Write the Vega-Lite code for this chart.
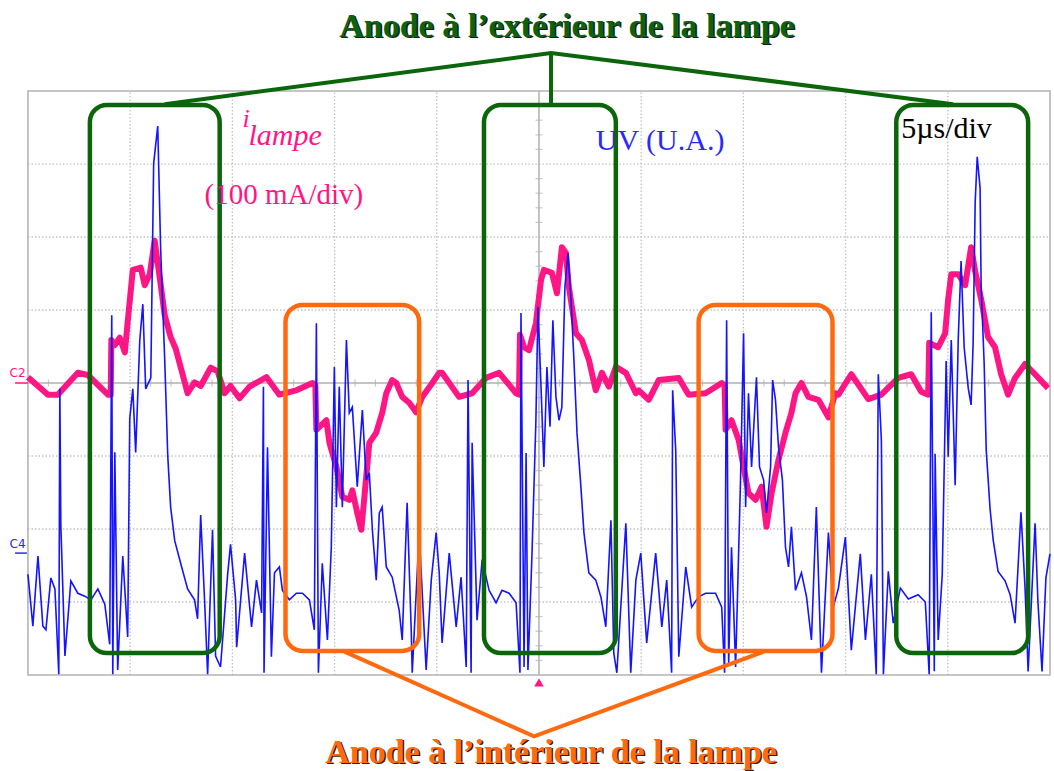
{
  "$schema": "https://vega.github.io/schema/vega-lite/v6.json",
  "width": 1054,
  "height": 771,
  "autosize": {"type": "fit", "contains": "padding"},
  "padding": 0,
  "background": "white",
  "config": {"view": {"stroke": null}, "axis": {"disable": true}},
  "datasets": {
    "pink": [
      {"t":0.00,"v":0.08},{"t":0.98,"v":-0.16},{"t":1.46,"v":-0.16},{"t":2.44,"v":0.14},{"t":2.93,"v":0.11},{"t":3.91,"v":-0.16},{"t":4.05,"v":-0.16},{"t":4.08,"v":0.59},{"t":4.25,"v":0.52},{"t":4.49,"v":0.62},{"t":4.74,"v":0.42},{"t":4.88,"v":0.84},{"t":5.13,"v":1.55},{"t":5.52,"v":1.58},{"t":5.71,"v":1.34},{"t":5.96,"v":1.49},{"t":6.20,"v":1.95},{"t":6.45,"v":1.44},{"t":6.69,"v":0.93},{"t":6.98,"v":0.63},{"t":7.23,"v":0.47},{"t":7.67,"v":0.01},{"t":7.81,"v":-0.14},{"t":8.15,"v":0.01},{"t":8.45,"v":-0.04},{"t":8.94,"v":0.21},{"t":9.28,"v":0.16},{"t":9.62,"v":-0.14},{"t":9.91,"v":-0.04},{"t":10.35,"v":-0.21},{"t":10.84,"v":-0.05},{"t":11.67,"v":0.08},{"t":12.30,"v":-0.16},{"t":13.13,"v":-0.10},{"t":13.92,"v":0.00},{"t":14.06,"v":-0.03},{"t":14.11,"v":-0.64},{"t":14.26,"v":-0.60},{"t":14.60,"v":-0.51},{"t":14.75,"v":-0.82},{"t":15.09,"v":-1.15},{"t":15.38,"v":-1.56},{"t":15.72,"v":-1.60},{"t":15.87,"v":-1.47},{"t":16.11,"v":-1.78},{"t":16.31,"v":-2.01},{"t":16.46,"v":-1.56},{"t":16.70,"v":-0.82},{"t":17.04,"v":-0.68},{"t":17.33,"v":-0.41},{"t":17.53,"v":-0.14},{"t":17.82,"v":0.04},{"t":18.02,"v":0.00},{"t":18.31,"v":-0.19},{"t":18.65,"v":-0.27},{"t":18.99,"v":-0.40},{"t":19.29,"v":-0.19},{"t":19.78,"v":0.00},{"t":20.12,"v":0.14},{"t":20.26,"v":0.14},{"t":21.09,"v":-0.19},{"t":21.73,"v":-0.14},{"t":22.41,"v":0.07},{"t":23.05,"v":0.14},{"t":23.88,"v":-0.14},{"t":24.02,"v":-0.16},{"t":24.07,"v":0.66},{"t":24.27,"v":0.49},{"t":24.51,"v":0.45},{"t":24.85,"v":0.82},{"t":25.10,"v":1.41},{"t":25.24,"v":1.55},{"t":25.63,"v":1.51},{"t":25.88,"v":1.23},{"t":26.12,"v":1.86},{"t":26.32,"v":1.78},{"t":26.46,"v":1.32},{"t":26.81,"v":0.68},{"t":27.10,"v":0.59},{"t":27.44,"v":0.32},{"t":27.78,"v":-0.10},{"t":28.08,"v":0.14},{"t":28.42,"v":-0.05},{"t":28.76,"v":0.22},{"t":29.25,"v":0.14},{"t":29.74,"v":-0.14},{"t":29.88,"v":-0.10},{"t":30.37,"v":-0.23},{"t":30.86,"v":0.04},{"t":31.84,"v":0.07},{"t":32.32,"v":-0.16},{"t":33.15,"v":-0.14},{"t":33.94,"v":0.00},{"t":34.08,"v":-0.03},{"t":34.13,"v":-0.64},{"t":34.42,"v":-0.51},{"t":34.77,"v":-0.78},{"t":35.01,"v":-1.15},{"t":35.25,"v":-1.51},{"t":35.60,"v":-1.60},{"t":35.89,"v":-1.42},{"t":36.13,"v":-1.97},{"t":36.38,"v":-1.51},{"t":36.72,"v":-1.05},{"t":37.06,"v":-0.68},{"t":37.35,"v":-0.41},{"t":37.55,"v":-0.14},{"t":37.84,"v":0.00},{"t":38.18,"v":-0.19},{"t":38.67,"v":-0.23},{"t":39.16,"v":-0.47},{"t":39.50,"v":-0.14},{"t":39.65,"v":-0.16},{"t":40.28,"v":0.12},{"t":41.11,"v":-0.22},{"t":41.75,"v":-0.16},{"t":42.58,"v":0.07},{"t":43.21,"v":0.12},{"t":43.70,"v":-0.12},{"t":44.04,"v":-0.16},{"t":44.09,"v":0.55},{"t":44.53,"v":0.49},{"t":44.87,"v":0.68},{"t":45.02,"v":1.15},{"t":45.17,"v":1.49},{"t":45.51,"v":1.49},{"t":45.85,"v":1.34},{"t":46.14,"v":1.86},{"t":46.34,"v":1.53},{"t":46.63,"v":1.15},{"t":46.97,"v":0.63},{"t":47.31,"v":0.49},{"t":47.61,"v":0.12},{"t":47.95,"v":-0.16},{"t":48.29,"v":0.07},{"t":48.78,"v":0.26},{"t":49.27,"v":0.12},{"t":49.90,"v":-0.07}
    ],
    "blue": [
      {"t":0.00,"v":-2.62},{"t":0.24,"v":-3.33},{"t":0.49,"v":-2.37},{"t":0.73,"v":-3.33},{"t":0.88,"v":-3.38},{"t":1.12,"v":-2.67},{"t":1.32,"v":-2.82},{"t":1.51,"v":-3.99},{"t":1.56,"v":-0.08},{"t":1.61,"v":-1.96},{"t":1.81,"v":-3.74},{"t":2.10,"v":-2.71},{"t":2.44,"v":-2.88},{"t":2.78,"v":-2.92},{"t":3.08,"v":-2.97},{"t":3.42,"v":-2.82},{"t":3.76,"v":-3.03},{"t":4.00,"v":-3.58},{"t":4.10,"v":0.93},{"t":4.15,"v":-3.99},{"t":4.25,"v":-0.95},{"t":4.39,"v":-3.93},{"t":4.64,"v":-2.37},{"t":4.88,"v":-3.48},{"t":4.98,"v":-0.49},{"t":5.13,"v":-0.08},{"t":5.27,"v":-0.95},{"t":5.47,"v":0.58},{"t":5.62,"v":1.08},{"t":5.76,"v":-0.08},{"t":6.01,"v":0.07},{"t":6.15,"v":3.01},{"t":6.35,"v":3.52},{"t":6.49,"v":1.85},{"t":6.69,"v":0.33},{"t":6.84,"v":-1.00},{"t":6.98,"v":-1.70},{"t":7.18,"v":-2.16},{"t":7.47,"v":-2.47},{"t":7.81,"v":-2.82},{"t":8.15,"v":-2.97},{"t":8.30,"v":-3.23},{"t":8.45,"v":-1.81},{"t":8.64,"v":-2.97},{"t":8.79,"v":-3.99},{"t":9.03,"v":-2.01},{"t":9.18,"v":-3.74},{"t":9.42,"v":-3.89},{"t":9.77,"v":-2.62},{"t":9.91,"v":-2.21},{"t":10.16,"v":-2.97},{"t":10.21,"v":-3.62},{"t":10.60,"v":-2.33},{"t":10.94,"v":-3.34},{"t":11.18,"v":-2.70},{"t":11.43,"v":-3.15},{"t":11.52,"v":-0.05},{"t":11.55,"v":-3.97},{"t":11.72,"v":-0.88},{"t":11.91,"v":-3.75},{"t":12.06,"v":-2.60},{"t":12.30,"v":-2.52},{"t":12.45,"v":-2.84},{"t":12.79,"v":-2.97},{"t":13.13,"v":-2.88},{"t":13.43,"v":-2.88},{"t":13.77,"v":-2.97},{"t":14.01,"v":-3.38},{"t":14.11,"v":0.82},{"t":14.21,"v":-3.97},{"t":14.40,"v":-2.47},{"t":14.65,"v":-3.52},{"t":14.84,"v":-2.25},{"t":14.99,"v":0.22},{"t":15.09,"v":-1.70},{"t":15.23,"v":-0.05},{"t":15.38,"v":-1.70},{"t":15.58,"v":0.59},{"t":15.72,"v":-0.41},{"t":15.87,"v":-0.33},{"t":16.11,"v":-1.42},{"t":16.36,"v":-0.37},{"t":16.55,"v":-1.33},{"t":16.70,"v":-1.23},{"t":16.85,"v":-2.01},{"t":17.04,"v":-2.70},{"t":17.19,"v":-1.78},{"t":17.33,"v":-1.70},{"t":17.53,"v":-2.52},{"t":17.82,"v":-2.66},{"t":18.16,"v":-3.11},{"t":18.31,"v":-3.52},{"t":18.55,"v":-1.64},{"t":18.75,"v":-3.38},{"t":18.80,"v":-3.97},{"t":19.14,"v":-2.05},{"t":19.48,"v":-3.93},{"t":19.73,"v":-2.70},{"t":19.97,"v":-2.05},{"t":20.12,"v":-2.60},{"t":20.26,"v":-3.56},{"t":20.61,"v":-2.33},{"t":20.95,"v":-3.34},{"t":21.19,"v":-2.66},{"t":21.44,"v":-3.89},{"t":21.53,"v":0.04},{"t":21.68,"v":-3.97},{"t":21.73,"v":-0.82},{"t":21.97,"v":-3.25},{"t":22.22,"v":-2.42},{"t":22.56,"v":-2.84},{"t":22.90,"v":-3.01},{"t":23.19,"v":-2.84},{"t":23.54,"v":-2.88},{"t":23.88,"v":-3.01},{"t":24.07,"v":-3.97},{"t":24.12,"v":0.96},{"t":24.27,"v":-3.89},{"t":24.37,"v":-0.96},{"t":24.46,"v":-3.93},{"t":24.66,"v":-2.33},{"t":24.85,"v":-0.51},{"t":24.95,"v":1.04},{"t":25.10,"v":-0.05},{"t":25.24,"v":-1.15},{"t":25.39,"v":0.22},{"t":25.54,"v":-0.60},{"t":25.68,"v":0.86},{"t":25.83,"v":-0.19},{"t":25.98,"v":-0.51},{"t":26.12,"v":-0.33},{"t":26.27,"v":1.32},{"t":26.42,"v":1.78},{"t":26.56,"v":1.18},{"t":26.71,"v":0.32},{"t":26.86,"v":-0.68},{"t":27.05,"v":-1.42},{"t":27.20,"v":-2.05},{"t":27.44,"v":-2.60},{"t":27.78,"v":-2.70},{"t":28.03,"v":-2.93},{"t":28.27,"v":-3.34},{"t":28.52,"v":-1.88},{"t":28.66,"v":-3.70},{"t":28.81,"v":-3.97},{"t":29.25,"v":-1.92},{"t":29.49,"v":-3.97},{"t":29.74,"v":-2.70},{"t":29.98,"v":-2.33},{"t":30.27,"v":-3.56},{"t":30.71,"v":-2.33},{"t":31.01,"v":-3.34},{"t":31.25,"v":-2.70},{"t":31.49,"v":-3.97},{"t":31.54,"v":-0.10},{"t":31.69,"v":-0.92},{"t":31.84,"v":-3.75},{"t":32.18,"v":-2.52},{"t":32.47,"v":-3.07},{"t":32.81,"v":-2.93},{"t":33.15,"v":-2.88},{"t":33.64,"v":-2.88},{"t":33.94,"v":-3.07},{"t":34.08,"v":-3.97},{"t":34.18,"v":0.86},{"t":34.28,"v":-3.84},{"t":34.42,"v":-2.25},{"t":34.62,"v":-3.89},{"t":34.86,"v":-1.33},{"t":35.01,"v":0.68},{"t":35.11,"v":-1.70},{"t":35.25,"v":-0.14},{"t":35.40,"v":-1.15},{"t":35.64,"v":0.08},{"t":35.79,"v":-1.15},{"t":35.99,"v":-1.33},{"t":36.13,"v":-1.78},{"t":36.33,"v":-1.15},{"t":36.43,"v":0.04},{"t":36.57,"v":-0.23},{"t":36.72,"v":-0.88},{"t":36.91,"v":-1.33},{"t":37.06,"v":-2.25},{"t":37.21,"v":-2.52},{"t":37.35,"v":-1.97},{"t":37.55,"v":-2.84},{"t":37.84,"v":-2.60},{"t":38.09,"v":-2.93},{"t":38.33,"v":-3.52},{"t":38.57,"v":-1.70},{"t":38.82,"v":-3.97},{"t":39.16,"v":-2.05},{"t":39.40,"v":-3.07},{"t":39.65,"v":-2.81},{"t":39.99,"v":-2.11},{"t":40.28,"v":-3.66},{"t":40.72,"v":-2.34},{"t":40.97,"v":-3.52},{"t":41.26,"v":-2.62},{"t":41.50,"v":-3.99},{"t":41.60,"v":0.12},{"t":41.75,"v":-0.78},{"t":41.85,"v":-3.99},{"t":42.09,"v":-2.58},{"t":42.33,"v":-3.29},{"t":42.68,"v":-2.81},{"t":43.07,"v":-2.96},{"t":43.55,"v":-2.90},{"t":43.90,"v":-3.00},{"t":44.09,"v":-3.99},{"t":44.19,"v":0.97},{"t":44.34,"v":-3.95},{"t":44.38,"v":-0.97},{"t":44.53,"v":-3.52},{"t":44.73,"v":-2.62},{"t":44.92,"v":0.30},{"t":45.02,"v":-1.01},{"t":45.17,"v":0.59},{"t":45.36,"v":-1.40},{"t":45.51,"v":0.59},{"t":45.65,"v":1.67},{"t":45.80,"v":0.49},{"t":46.00,"v":-0.07},{"t":46.14,"v":-0.30},{"t":46.24,"v":0.55},{"t":46.34,"v":2.48},{"t":46.44,"v":3.10},{"t":46.58,"v":2.67},{"t":46.63,"v":1.34},{"t":46.78,"v":0.26},{"t":46.88,"v":-0.92},{"t":47.07,"v":-1.73},{"t":47.22,"v":-2.15},{"t":47.46,"v":-2.58},{"t":47.80,"v":-2.71},{"t":48.05,"v":-2.90},{"t":48.29,"v":-3.29},{"t":48.58,"v":-1.77},{"t":48.78,"v":-2.81},{"t":48.93,"v":-3.95},{"t":49.27,"v":-1.92},{"t":49.41,"v":-3.00},{"t":49.61,"v":-3.95},{"t":49.80,"v":-2.67},{"t":50.00,"v":-2.34}
    ],
    "boxes": [
      {"kind":"extérieur","t1":3.03,"t2":9.38,"v1":-3.70,"v2":3.81},
      {"kind":"extérieur","t1":22.31,"t2":28.76,"v1":-3.70,"v2":3.81},
      {"kind":"extérieur","t1":42.48,"t2":48.93,"v1":-3.70,"v2":3.81},
      {"kind":"intérieur","t1":12.60,"t2":19.14,"v1":-3.67,"v2":1.07},
      {"kind":"intérieur","t1":32.81,"t2":39.36,"v1":-3.67,"v2":1.07}
    ],
    "links": [
      {"g":"e1","kind":"extérieur","i":1,"t":6.69,"v":3.82},
      {"g":"e1","kind":"extérieur","i":2,"t":25.59,"v":4.52},
      {"g":"e1","kind":"extérieur","i":3,"t":45.26,"v":3.82},
      {"g":"e2","kind":"extérieur","i":1,"t":25.59,"v":4.52},
      {"g":"e2","kind":"extérieur","i":2,"t":25.59,"v":3.82},
      {"g":"i1","kind":"intérieur","i":1,"t":15.48,"v":-3.68},
      {"g":"i1","kind":"intérieur","i":2,"t":24.76,"v":-4.84},
      {"g":"i1","kind":"intérieur","i":3,"t":35.99,"v":-3.68}
    ],
    "vgrid": [
      {"t":5,"lo":-4,"hi":4},{"t":10,"lo":-4,"hi":4},{"t":15,"lo":-4,"hi":4},{"t":20,"lo":-4,"hi":4},{"t":30,"lo":-4,"hi":4},{"t":35,"lo":-4,"hi":4},{"t":40,"lo":-4,"hi":4},{"t":45,"lo":-4,"hi":4}
    ],
    "hgrid": [
      {"v":-3,"lo":0,"hi":50},{"v":-2,"lo":0,"hi":50},{"v":-1,"lo":0,"hi":50},{"v":1,"lo":0,"hi":50},{"v":2,"lo":0,"hi":50},{"v":3,"lo":0,"hi":50}
    ],
    "hticks": [
      {"t":1,"v":0},{"t":2,"v":0},{"t":3,"v":0},{"t":4,"v":0},{"t":6,"v":0},{"t":7,"v":0},{"t":8,"v":0},{"t":9,"v":0},{"t":11,"v":0},{"t":12,"v":0},{"t":13,"v":0},{"t":14,"v":0},{"t":16,"v":0},{"t":17,"v":0},{"t":18,"v":0},{"t":19,"v":0},{"t":21,"v":0},{"t":22,"v":0},{"t":23,"v":0},{"t":24,"v":0},{"t":26,"v":0},{"t":27,"v":0},{"t":28,"v":0},{"t":29,"v":0},{"t":31,"v":0},{"t":32,"v":0},{"t":33,"v":0},{"t":34,"v":0},{"t":36,"v":0},{"t":37,"v":0},{"t":38,"v":0},{"t":39,"v":0},{"t":41,"v":0},{"t":42,"v":0},{"t":43,"v":0},{"t":44,"v":0},{"t":46,"v":0},{"t":47,"v":0},{"t":48,"v":0},{"t":49,"v":0}
    ],
    "vticks": [
      {"t":25,"v":-3.8},{"t":25,"v":-3.6},{"t":25,"v":-3.4},{"t":25,"v":-3.2},{"t":25,"v":-2.8},{"t":25,"v":-2.6},{"t":25,"v":-2.4},{"t":25,"v":-2.2},{"t":25,"v":-1.8},{"t":25,"v":-1.6},{"t":25,"v":-1.4},{"t":25,"v":-1.2},{"t":25,"v":-0.8},{"t":25,"v":-0.6},{"t":25,"v":-0.4},{"t":25,"v":-0.2},{"t":25,"v":0.2},{"t":25,"v":0.4},{"t":25,"v":0.6},{"t":25,"v":0.8},{"t":25,"v":1.2},{"t":25,"v":1.4},{"t":25,"v":1.6},{"t":25,"v":1.8},{"t":25,"v":2.2},{"t":25,"v":2.4},{"t":25,"v":2.6},{"t":25,"v":2.8},{"t":25,"v":3.2},{"t":25,"v":3.4},{"t":25,"v":3.6},{"t":25,"v":3.8}
    ],
    "frame": [
      {"t1":0,"t2":50,"v1":-4,"v2":4}
    ],
    "centre": [
      {"t1":25,"t2":25,"v1":-4,"v2":4},
      {"t1":0,"t2":50,"v1":0,"v2":0}
    ]
  },
  "encoding": {
    "x": {"field": "t", "type": "quantitative", "scale": {"domain": [-1.367, 50.098], "nice": false, "zero": false}, "axis": null},
    "y": {"field": "v", "type": "quantitative", "scale": {"domain": [-5.315, 5.247], "nice": false, "zero": false}, "axis": null}
  },
  "layer": [
    {
      "data": {"name": "vgrid"},
      "mark": {"type": "rule", "color": "#c2c2c2", "strokeWidth": 1.3, "strokeDash": [1.5, 2]},
      "encoding": {"y": {"field": "lo", "type": "quantitative"}, "y2": {"field": "hi"}}
    },
    {
      "data": {"name": "hgrid"},
      "mark": {"type": "rule", "color": "#c2c2c2", "strokeWidth": 1.3, "strokeDash": [1.5, 2]},
      "encoding": {"x": {"field": "lo", "type": "quantitative"}, "x2": {"field": "hi"}}
    },
    {
      "data": {"name": "centre"},
      "mark": {"type": "rule", "color": "#b0b0b0", "strokeWidth": 1.5},
      "encoding": {"x": {"field": "t1", "type": "quantitative"}, "x2": {"field": "t2"}, "y": {"field": "v1", "type": "quantitative"}, "y2": {"field": "v2"}}
    },
    {
      "data": {"name": "hticks"},
      "mark": {"type": "tick", "orient": "vertical", "color": "#b0b0b0", "size": 7, "thickness": 1.2}
    },
    {
      "data": {"name": "vticks"},
      "mark": {"type": "tick", "orient": "horizontal", "color": "#b0b0b0", "size": 7, "thickness": 1.2}
    },
    {
      "data": {"name": "frame"},
      "mark": {"type": "rect", "filled": false, "stroke": "#b4b4b4", "strokeWidth": 1.6},
      "encoding": {"x": {"field": "t1", "type": "quantitative"}, "x2": {"field": "t2"}, "y": {"field": "v1", "type": "quantitative"}, "y2": {"field": "v2"}}
    },
    {
      "data": {"name": "pink"},
      "mark": {"type": "line", "color": "#ff1685", "strokeWidth": 6, "strokeJoin": "round"}
    },
    {
      "data": {"name": "blue"},
      "mark": {"type": "line", "color": "#1414ff", "strokeWidth": 1.6, "strokeJoin": "miter"}
    },
    {
      "data": {"name": "boxes"},
      "mark": {"type": "rect", "filled": false, "strokeWidth": 4.5, "cornerRadius": 17},
      "encoding": {
        "x": {"field": "t1", "type": "quantitative"},
        "x2": {"field": "t2"},
        "y": {"field": "v1", "type": "quantitative"},
        "y2": {"field": "v2"},
        "color": {"field": "kind", "type": "nominal", "scale": {"domain": ["extérieur", "intérieur"], "range": ["#0b660b", "#ff6a10"]}, "legend": null}
      }
    },
    {
      "data": {"name": "links"},
      "mark": {"type": "line", "strokeWidth": 4, "strokeJoin": "miter"},
      "encoding": {
        "detail": {"field": "g"},
        "order": {"field": "i", "type": "quantitative"},
        "color": {"field": "kind", "type": "nominal", "scale": {"domain": ["extérieur", "intérieur"], "range": ["#0b660b", "#ff6a10"]}, "legend": null}
      }
    },
    {
      "data": {"values": [{"t":25,"v":-4.1}]},
      "mark": {"type": "point", "shape": "triangle-up", "filled": true, "color": "#ff1685", "size": 90, "opacity": 1}
    },
    {
      "data": {"values": [{"t":26.37,"v":4.74,"label":"Anode à l’extérieur de la lampe"}]},
      "mark": {"type": "text", "font": "Liberation Serif", "fontWeight": "bold", "fontSize": 34, "align": "center", "baseline": "alphabetic", "color": "#1a1a1a", "dx": 1.5, "dy": 1.2},
      "encoding": {"text": {"field": "label"}}
    },
    {
      "data": {"values": [{"t":26.37,"v":4.74,"label":"Anode à l’extérieur de la lampe"}]},
      "mark": {"type": "text", "font": "Liberation Serif", "fontWeight": "bold", "fontSize": 34, "align": "center", "baseline": "alphabetic", "color": "#0d630d"},
      "encoding": {"text": {"field": "label"}}
    },
    {
      "data": {"values": [{"t":25.59,"v":-5.2,"label":"Anode à l’intérieur de la lampe"}]},
      "mark": {"type": "text", "font": "Liberation Serif", "fontWeight": "bold", "fontSize": 34, "align": "center", "baseline": "alphabetic", "color": "#3a1a00", "dx": 1.5, "dy": 1.2},
      "encoding": {"text": {"field": "label"}}
    },
    {
      "data": {"values": [{"t":25.59,"v":-5.2,"label":"Anode à l’intérieur de la lampe"}]},
      "mark": {"type": "text", "font": "Liberation Serif", "fontWeight": "bold", "fontSize": 34, "align": "center", "baseline": "alphabetic", "color": "#ff6a10"},
      "encoding": {"text": {"field": "label"}}
    },
    {
      "data": {"values": [{"t":10.50,"v":3.51,"label":"i"}]},
      "mark": {"type": "text", "font": "Liberation Serif", "fontStyle": "italic", "fontSize": 26, "align": "left", "baseline": "alphabetic", "color": "#ff1685"},
      "encoding": {"text": {"field": "label"}}
    },
    {
      "data": {"values": [{"t":10.79,"v":3.26,"label":"lampe"}]},
      "mark": {"type": "text", "font": "Liberation Serif", "fontStyle": "italic", "fontSize": 30, "align": "left", "baseline": "alphabetic", "color": "#ff1685"},
      "encoding": {"text": {"field": "label"}}
    },
    {
      "data": {"values": [{"t":8.64,"v":2.45,"label":"(100 mA/div)"}]},
      "mark": {"type": "text", "font": "Liberation Serif", "fontSize": 29, "align": "left", "baseline": "alphabetic", "color": "#ff1685"},
      "encoding": {"text": {"field": "label"}}
    },
    {
      "data": {"values": [{"t":27.78,"v":3.19,"label":"UV (U.A.)"}]},
      "mark": {"type": "text", "font": "Liberation Serif", "fontSize": 30, "align": "left", "baseline": "alphabetic", "color": "#2a2aff"},
      "encoding": {"text": {"field": "label"}}
    },
    {
      "data": {"values": [{"t":42.72,"v":3.36,"label":"5µs/div"}]},
      "mark": {"type": "text", "font": "Liberation Serif", "fontSize": 30, "align": "left", "baseline": "alphabetic", "color": "#000000"},
      "encoding": {"text": {"field": "label"}}
    },
    {
      "data": {"values": [{"t":-0.90,"v":0.08,"label":"C2"}]},
      "mark": {"type": "text", "font": "DejaVu Sans", "fontSize": 12, "align": "left", "baseline": "alphabetic", "color": "#ff1685"},
      "encoding": {"text": {"field": "label"}}
    },
    {
      "data": {"values": [{"t":-0.90,"v":-2.26,"label":"C4"}]},
      "mark": {"type": "text", "font": "DejaVu Sans", "fontSize": 12, "align": "left", "baseline": "alphabetic", "color": "#2a2aff"},
      "encoding": {"text": {"field": "label"}}
    },
    {
      "data": {"values": [{"a":-0.63,"b":0.0,"v":0.0}]},
      "mark": {"type": "rule", "color": "#ff1685", "strokeWidth": 1.5},
      "encoding": {"x": {"field": "a", "type": "quantitative"}, "x2": {"field": "b"}}
    },
    {
      "data": {"values": [{"a":-0.63,"b":-0.05,"v":-2.33}]},
      "mark": {"type": "rule", "color": "#2a2aff", "strokeWidth": 1.5},
      "encoding": {"x": {"field": "a", "type": "quantitative"}, "x2": {"field": "b"}}
    }
  ]
}
